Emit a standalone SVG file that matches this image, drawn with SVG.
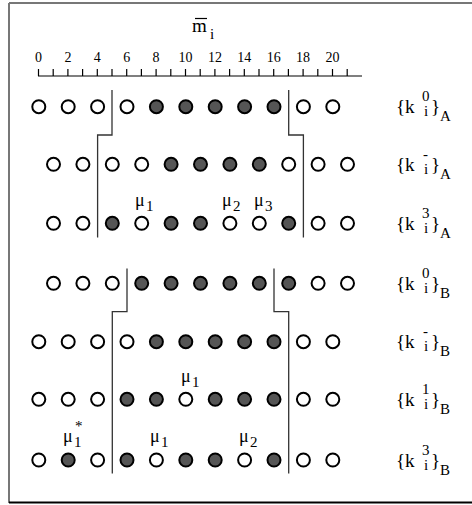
<svg xmlns="http://www.w3.org/2000/svg" width="472" height="505" viewBox="0 0 472 505">
<style>
.o{fill:#fff;stroke:#000;stroke-width:2}
.f{fill:#555;stroke:#000;stroke-width:2}
.t{font-family:"Liberation Serif","Times New Roman",Times,serif;fill:#000}
.tick{font-family:"Liberation Serif","Times New Roman",Times,serif;font-size:14px;text-anchor:middle}
.sep{fill:none;stroke:#333;stroke-width:1.3}
.ax{stroke:#000;stroke-width:1.2;fill:none}
.big{font-size:19px}
.sm{font-size:15px}
.mu{font-size:18px}
</style>
<defs>
<circle id="co" r="6.5" class="o"/>
<circle id="cf" r="6.5" class="f"/>
</defs>
<g id="frame">
<line x1="9" y1="3" x2="472" y2="3" stroke="#777" stroke-width="2"/>
<line x1="9" y1="3" x2="9" y2="503" stroke="#777" stroke-width="2"/>
<line x1="9" y1="502.5" x2="472" y2="502.5" stroke="#000" stroke-width="2"/>
</g>
<g id="axis">
<text class="t" x="192" y="32" font-size="19">m</text>
<line x1="195" y1="18.5" x2="207" y2="18.5" stroke="#000" stroke-width="1.2"/>
<text class="t" x="210" y="39" font-size="15">i</text>
<path class="ax" d="M38 76H362 M38.5 69V76 M53.2 69V76 M67.9 69V76 M82.6 69V76 M97.3 69V76 M112 69V76 M126.7 69V76 M141.4 69V76 M156.1 69V76 M170.8 69V76 M185.5 69V76 M200.2 69V76 M214.9 69V76 M229.6 69V76 M244.3 69V76 M259 69V76 M273.7 69V76 M288.4 69V76 M303.1 69V76 M317.8 69V76 M332.5 69V76 M347.2 69V76"/>
<g class="tick">
<text x="38.5" y="62">0</text><text x="67.9" y="62">2</text><text x="97.3" y="62">4</text><text x="126.7" y="62">6</text><text x="156.1" y="62">8</text><text x="185.5" y="62">10</text><text x="214.9" y="62">12</text><text x="244.3" y="62">14</text><text x="273.7" y="62">16</text><text x="303.1" y="62">18</text><text x="332.5" y="62">20</text>
</g>
</g>
<g id="connectors">
<path class="sep" d="M112 90V135H97.6V237.5"/>
<path class="sep" d="M288.7 90V135H303.4V237.5"/>
<path class="sep" d="M127 268.5V311.7H112.3V473.5"/>
<path class="sep" d="M274 268.5V311.7H288.7V473.5"/>
</g>
<g id="row1">
<use href="#co" x="38.8" y="106.7"/><use href="#co" x="68.2" y="106.7"/><use href="#co" x="97.6" y="106.7"/><use href="#co" x="127" y="106.7"/><use href="#cf" x="156.4" y="106.7"/><use href="#cf" x="185.8" y="106.7"/><use href="#cf" x="215.2" y="106.7"/><use href="#cf" x="244.6" y="106.7"/><use href="#cf" x="274" y="106.7"/><use href="#co" x="303.4" y="106.7"/><use href="#co" x="332.8" y="106.7"/>
<text class="t big" x="396" y="113">{k</text><text class="t sm" x="422" y="101">0</text><text class="t sm" x="424" y="115.5">i</text><text class="t big" x="431" y="113">}</text><text class="t sm" x="440" y="121">A</text>
</g>
<g id="row2">
<use href="#co" x="53.5" y="164.3"/><use href="#co" x="82.9" y="164.3"/><use href="#co" x="112.3" y="164.3"/><use href="#co" x="141.7" y="164.3"/><use href="#cf" x="171.1" y="164.3"/><use href="#cf" x="200.5" y="164.3"/><use href="#cf" x="229.9" y="164.3"/><use href="#cf" x="259.3" y="164.3"/><use href="#co" x="288.7" y="164.3"/><use href="#co" x="318.1" y="164.3"/><use href="#co" x="347.5" y="164.3"/>
<text class="t big" x="396" y="171">{k</text><text class="t sm" x="423" y="159">-</text><text class="t sm" x="424" y="173.5">i</text><text class="t big" x="431" y="171">}</text><text class="t sm" x="440" y="179">A</text>
</g>
<g id="row3">
<use href="#co" x="53.5" y="223.3"/><use href="#co" x="82.9" y="223.3"/><use href="#cf" x="112.3" y="223.3"/><use href="#co" x="141.7" y="223.3"/><use href="#cf" x="171.1" y="223.3"/><use href="#cf" x="200.5" y="223.3"/><use href="#co" x="229.9" y="223.3"/><use href="#co" x="259.3" y="223.3"/><use href="#cf" x="288.7" y="223.3"/><use href="#co" x="318.1" y="223.3"/><use href="#co" x="347.5" y="223.3"/>
<text class="t big" x="396" y="230">{k</text><text class="t sm" x="422" y="218">3</text><text class="t sm" x="424" y="232.5">i</text><text class="t big" x="431" y="230">}</text><text class="t sm" x="440" y="238">A</text>
<text class="t mu" x="135" y="206">μ</text><text class="t sm" x="146" y="211">1</text>
<text class="t mu" x="222" y="206">μ</text><text class="t sm" x="233" y="211">2</text>
<text class="t mu" x="254" y="206">μ</text><text class="t sm" x="265" y="211">3</text>
</g>
<g id="row4">
<use href="#co" x="53.5" y="283.3"/><use href="#co" x="82.9" y="283.3"/><use href="#co" x="112.3" y="283.3"/><use href="#cf" x="141.7" y="283.3"/><use href="#cf" x="171.1" y="283.3"/><use href="#cf" x="200.5" y="283.3"/><use href="#cf" x="229.9" y="283.3"/><use href="#cf" x="259.3" y="283.3"/><use href="#cf" x="288.7" y="283.3"/><use href="#co" x="318.1" y="283.3"/><use href="#co" x="347.5" y="283.3"/>
<text class="t big" x="396" y="290">{k</text><text class="t sm" x="422" y="278">0</text><text class="t sm" x="424" y="292.5">i</text><text class="t big" x="431" y="290">}</text><text class="t sm" x="440" y="298">B</text>
</g>
<g id="row5">
<use href="#co" x="38.8" y="341.7"/><use href="#co" x="68.2" y="341.7"/><use href="#co" x="97.6" y="341.7"/><use href="#co" x="127" y="341.7"/><use href="#cf" x="156.4" y="341.7"/><use href="#cf" x="185.8" y="341.7"/><use href="#cf" x="215.2" y="341.7"/><use href="#cf" x="244.6" y="341.7"/><use href="#cf" x="274" y="341.7"/><use href="#co" x="303.4" y="341.7"/><use href="#co" x="332.8" y="341.7"/>
<text class="t big" x="396" y="348">{k</text><text class="t sm" x="423" y="336">-</text><text class="t sm" x="424" y="350.5">i</text><text class="t big" x="431" y="348">}</text><text class="t sm" x="440" y="356">B</text>
</g>
<g id="row6">
<use href="#co" x="38.8" y="399.3"/><use href="#co" x="68.2" y="399.3"/><use href="#co" x="97.6" y="399.3"/><use href="#cf" x="127" y="399.3"/><use href="#cf" x="156.4" y="399.3"/><use href="#co" x="185.8" y="399.3"/><use href="#cf" x="215.2" y="399.3"/><use href="#cf" x="244.6" y="399.3"/><use href="#cf" x="274" y="399.3"/><use href="#co" x="303.4" y="399.3"/><use href="#co" x="332.8" y="399.3"/>
<text class="t big" x="396" y="406">{k</text><text class="t sm" x="422" y="394">1</text><text class="t sm" x="424" y="408.5">i</text><text class="t big" x="431" y="406">}</text><text class="t sm" x="440" y="414">B</text>
<text class="t mu" x="181" y="382">μ</text><text class="t sm" x="192" y="387">1</text>
</g>
<g id="row7">
<use href="#co" x="38.8" y="460"/><use href="#cf" x="68.2" y="460"/><use href="#co" x="97.6" y="460"/><use href="#cf" x="127" y="460"/><use href="#co" x="156.4" y="460"/><use href="#cf" x="185.8" y="460"/><use href="#cf" x="215.2" y="460"/><use href="#co" x="244.6" y="460"/><use href="#cf" x="274" y="460"/><use href="#co" x="303.4" y="460"/><use href="#co" x="332.8" y="460"/>
<text class="t big" x="396" y="467">{k</text><text class="t sm" x="422" y="455">3</text><text class="t sm" x="424" y="469.5">i</text><text class="t big" x="431" y="467">}</text><text class="t sm" x="440" y="475">B</text>
<text class="t mu" x="63" y="442">μ</text><text class="t sm" x="74" y="447">1</text><text class="t sm" x="75" y="431">*</text>
<text class="t mu" x="150" y="442">μ</text><text class="t sm" x="161" y="447">1</text>
<text class="t mu" x="239" y="442">μ</text><text class="t sm" x="250" y="447">2</text>
</g>
</svg>
